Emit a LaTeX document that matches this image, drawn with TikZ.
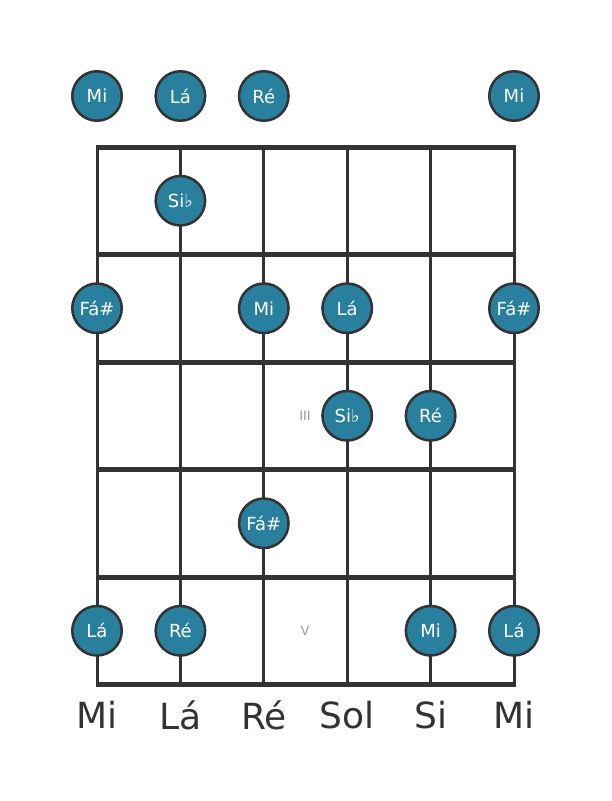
\documentclass[tikz,border=0pt]{standalone}
\usepackage{fontspec}
\setmainfont{DejaVu Sans}
\newcommand{\varxo}{97}
\newcommand{\vardx}{83.4}
\newcommand{\varyo}{147}
\newcommand{\vardy}{107.5}
\newcommand{\varyopen}{96}
\definecolor{noteblue}{RGB}{41,128,158}
\definecolor{boardgray}{RGB}{51,51,51}
\tikzset{
  note/.style={circle, draw=boardgray, line width=2.5pt, fill=noteblue,
    minimum size=49.5pt, inner sep=0pt, text=white, font=\fontsize{18}{18}\selectfont},
  fretnum/.style={text=gray!80, font=\fontsize{13}{13}\selectfont},
  stringname/.style={text=boardgray, font=\fontsize{36}{36}\selectfont}
}

\begin{document}
\begin{tikzpicture}[x=1pt, y=-1pt]
	\useasboundingbox (0,0) rectangle (611,801);

	% strings
	\foreach \s in {0,...,5}
		\draw [boardgray, line width=3pt] (\varxo+\s*\vardx,\varyo) -- (\varxo+\s*\vardx,\varyo+5*\vardy);

	% frets
	\foreach \f in {0,...,5}
		\draw [boardgray, line width=5pt] (\varxo-1.5,\varyo+\f*\vardy) -- (\varxo+5*\vardx+1.5,\varyo+\f*\vardy);

	% open strings
	\foreach \s/\t in {0/Mi, 1/Lá, 2/Ré, 5/Mi}
		\node [note] (open-\s) at (\varxo+\s*\vardx,\varyopen) {\t};

	% fretted notes
	\foreach \s/\f/\t in {1/1/Si♭, 0/2/Fá\#, 2/2/Mi, 3/2/Lá, 5/2/Fá\#,
		3/3/Si♭, 4/3/Ré, 2/4/Fá\#, 0/5/Lá, 1/5/Ré, 4/5/Mi, 5/5/Lá}
		\node [note] (note-\s-\f) at (\varxo+\s*\vardx,\varyo+\f*\vardy-.5*\vardy) {\t};

	% fret numbers
	\node [fretnum] (fret-3) at (305,\varyo+2.5*\vardy) {III};
	\node [fretnum] (fret-5) at (305,\varyo+4.5*\vardy) {V};

	% captions
	\foreach \s/\t in {0/Mi, 1/Lá, 2/Ré, 3/Sol, 4/Si, 5/Mi}
		\node [stringname] (name-\s) at (\varxo+\s*\vardx,715) {\t};
\end{tikzpicture}
\end{document}
